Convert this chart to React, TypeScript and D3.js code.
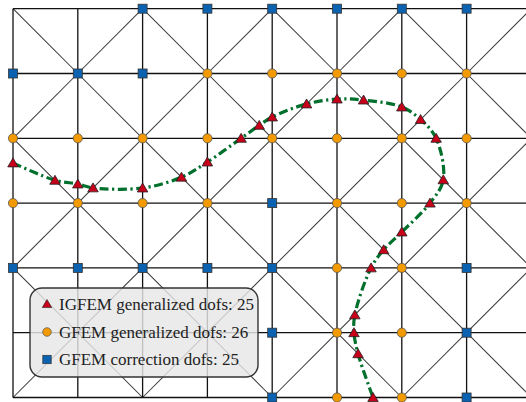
import React from "react";
import * as d3 from "d3";

// Mesh: columns / rows of grid nodes (grid units)
const COLS = [0, 1, 2, 3, 4, 5, 6, 7, 8];
const ROWS = [0, 1, 2, 3, 4, 5, 6];

// GFEM correction dofs (squares): [col, row]
const squareNodes: [number, number][] = [
  [2, 0], [3, 0], [4, 0], [5, 0], [6, 0], [7, 0],
  [0, 1], [1, 1], [2, 1],
  [4, 3],
  [0, 4], [1, 4], [2, 4], [3, 4], [4, 4], [7, 4],
  [4, 5], [7, 5],
  [4, 6], [7, 6],
];

// GFEM generalized dofs (circles): [col, row]
const circleNodes: [number, number][] = [
  [3, 1], [4, 1], [5, 1], [6, 1], [7, 1],
  [0, 2], [1, 2], [2, 2], [3, 2], [4, 2], [5, 2], [6, 2], [7, 2],
  [0, 3], [1, 3], [2, 3], [3, 3], [5, 3], [6, 3], [7, 3],
  [5, 4], [6, 4],
  [5, 5], [6, 5],
  [5, 6], [6, 6],
];

// IGFEM generalized dofs (triangles) – intersections of interface with mesh
const triPoints: [number, number][] = [
  [0, 2.38], [0.648, 2.648], [1.0, 2.705], [1.235, 2.765], [2.0, 2.767],
  [2.6, 2.6], [3.0, 2.366], [3.52, 2.0], [3.8, 1.8], [4.0, 1.671],
  [4.53, 1.47], [5.0, 1.394], [5.41, 1.41], [6.0, 1.517], [6.29, 1.71],
  [6.53, 2.0], [6.64, 2.64], [6.435, 3.0], [6.0, 3.446], [5.72, 3.72],
  [5.525, 4.0], [5.275, 4.725], [5.262, 5.0], [5.325, 5.325], [5.556, 6.0],
];

const legendLabels = [
  "IGFEM generalized dofs: 25",
  "GFEM generalized dofs: 26",
  "GFEM correction dofs: 25",
];

const RED = "#c8001a";
const ORANGE = "#f39a00";
const BLUE = "#0a62b0";
const GREEN = "#00702c";

export default function App() {
  const x = d3.scaleLinear().domain([0, 8]).range([13, 531.4]);
  const y = d3.scaleLinear().domain([0, 6]).range([8.7, 397.5]);

  const diagonals: { x1: number; y1: number; x2: number; y2: number }[] = [];
  for (let c = 0; c < 8; c++) {
    for (let r = 0; r < 6; r++) {
      if ((c + r) % 2 === 0) {
        diagonals.push({ x1: x(c), y1: y(r), x2: x(c + 1), y2: y(r + 1) });
      } else {
        diagonals.push({ x1: x(c), y1: y(r + 1), x2: x(c + 1), y2: y(r) });
      }
    }
  }

  const line = d3
    .line<[number, number]>()
    .x((d) => x(d[0]))
    .y((d) => y(d[1]))
    .curve(d3.curveCatmullRom.alpha(0.5));

  const tri = (cx: number, cy: number, s = 10.5) => {
    const h = s * 0.85;
    return `M${cx},${cy - h / 2 - 0.5}L${cx + s / 2},${cy + h / 2 - 0.5}L${cx - s / 2},${cy + h / 2 - 0.5}Z`;
  };

  const legendX = 30;
  const legendY = 288;
  const legendRows = [304, 332, 359.5];

  return (
    <svg
      width={526}
      height={402}
      style={{ position: "absolute", left: 0, top: 0, background: "#fff" }}
    >
      <g>
        {diagonals.map((d, i) => (
          <line key={"d" + i} {...d} stroke="#3a3a3a" strokeWidth={1.05} />
        ))}
        {COLS.map((c) => (
          <line key={"v" + c} x1={x(c)} x2={x(c)} y1={y(0)} y2={y(6)} stroke="#111" strokeWidth={1.3} />
        ))}
        {ROWS.map((r) => (
          <line key={"h" + r} x1={x(0)} x2={x(8)} y1={y(r)} y2={y(r)} stroke="#111" strokeWidth={1.3} />
        ))}
      </g>
      <path
        d={line(triPoints) || ""}
        fill="none"
        stroke={GREEN}
        strokeWidth={3.2}
        strokeDasharray="9,3.5,2.2,3.5"
      />
      {squareNodes.map(([c, r], i) => (
        <rect key={"s" + i} x={x(c) - 4.5} y={y(r) - 4.5} width={9} height={9} fill={BLUE} stroke="#333" strokeWidth={0.8} />
      ))}
      {circleNodes.map(([c, r], i) => (
        <circle key={"c" + i} cx={x(c)} cy={y(r)} r={4.6} fill={ORANGE} stroke="#555" strokeWidth={0.8} />
      ))}
      {triPoints.map(([u, v], i) => (
        <path key={"t" + i} d={tri(x(u), y(v))} fill={RED} stroke="#222" strokeWidth={0.8} />
      ))}
      <g>
        <rect
          x={legendX}
          y={legendY}
          width={228}
          height={89}
          rx={12}
          ry={12}
          fill="#e6e6e6"
          fillOpacity={0.82}
          stroke="#333"
          strokeWidth={1.4}
        />
        <path d={tri(47, legendRows[0], 9.5)} fill={RED} stroke="#222" strokeWidth={0.6} />
        <circle cx={47} cy={legendRows[1]} r={4.3} fill={ORANGE} stroke="#555" strokeWidth={0.7} />
        <rect x={47 - 4.2} y={legendRows[2] - 4.2} width={8.4} height={8.4} fill={BLUE} stroke="#333" strokeWidth={0.7} />
        {legendLabels.map((t, i) => (
          <text
            key={"l" + i}
            x={59}
            y={legendRows[i] + 5.5}
            style={{ fontFamily: "Liberation Serif, serif", fontSize: "17px" }}
            fill="#222"
          >
            {t}
          </text>
        ))}
      </g>
    </svg>
  );
}
